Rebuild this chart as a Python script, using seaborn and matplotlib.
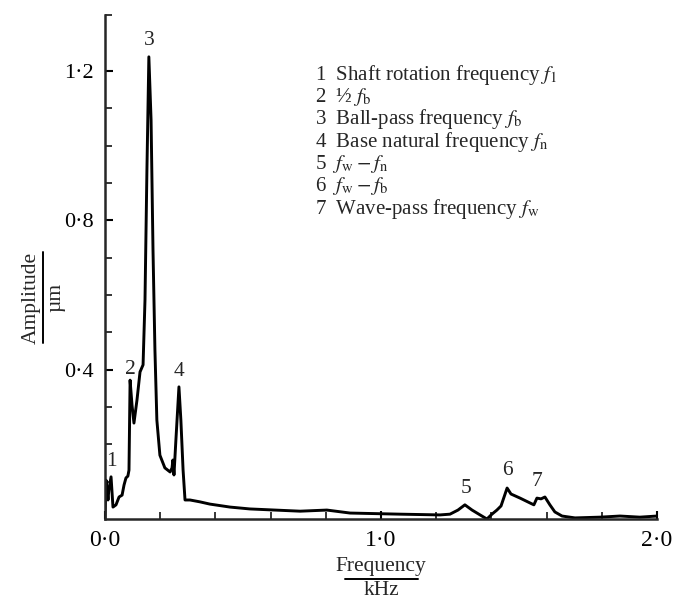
import matplotlib
matplotlib.use("Agg")
import matplotlib.pyplot as plt
from matplotlib.ticker import FixedLocator
import seaborn as sns
import pandas as pd

# Vibration spectrum of a rolling-bearing test rig (frequency in kHz, amplitude in µm)
freq_khz = [0.000, 0.004, 0.011, 0.014, 0.022, 0.029, 0.040, 0.051, 0.062, 0.069,
            0.076, 0.083, 0.087, 0.091, 0.098, 0.105, 0.116, 0.127, 0.138, 0.145,
            0.152, 0.159, 0.167, 0.174, 0.181, 0.188, 0.199, 0.217, 0.236, 0.243,
            0.246, 0.250, 0.257, 0.268, 0.275, 0.283, 0.290, 0.308, 0.344, 0.380,
            0.453, 0.525, 0.707, 0.804, 0.888, 1.069, 1.214, 1.250, 1.279, 1.304,
            1.330, 1.359, 1.384, 1.402, 1.420, 1.435, 1.446, 1.457, 1.471, 1.504,
            1.540, 1.554, 1.565, 1.580, 1.594, 1.612, 1.630, 1.656, 1.703, 1.793,
            1.866, 1.938, 2.000]
amplitude_um = [0.000, 0.104, 0.051, 0.078, 0.113, 0.032, 0.038, 0.059, 0.064, 0.091,
                0.110, 0.115, 0.131, 0.372, 0.305, 0.257, 0.319, 0.394, 0.413, 0.587,
                0.935, 1.238, 1.069, 0.721, 0.453, 0.265, 0.171, 0.137, 0.126, 0.137,
                0.158, 0.118, 0.212, 0.354, 0.265, 0.131, 0.051, 0.051, 0.046, 0.040,
                0.032, 0.027, 0.021, 0.024, 0.016, 0.013, 0.011, 0.013, 0.024, 0.038,
                0.024, 0.011, 0.000, 0.013, 0.024, 0.035, 0.059, 0.083, 0.067, 0.056,
                0.043, 0.038, 0.056, 0.054, 0.059, 0.038, 0.019, 0.008, 0.003, 0.005,
                0.008, 0.005, 0.008]

# Numbered peaks and their key entries
peak_ids = ["1", "2", "3", "4", "5", "6", "7"]
peak_freq = [0.022, 0.091, 0.159, 0.268, 1.308, 1.460, 1.565]
peak_label_amp = [0.153, 0.400, 1.283, 0.396, 0.083, 0.129, 0.100]
key_entries = [
    r"1  Shaft rotation frequency $f_1$",
    r"2  ½ $f_{\mathrm{b}}$",
    r"3  Ball-pass frequency $f_{\mathrm{b}}$",
    r"4  Base natural frequency $f_{\mathrm{n}}$",
    r"5  $f_{\mathrm{w}} - f_{\mathrm{n}}$",
    r"6  $f_{\mathrm{w}} - f_{\mathrm{b}}$",
    r"7  Wave-pass frequency $f_{\mathrm{w}}$",
]

x_major = [0.0, 1.0, 2.0]
x_major_labels = ["0·0", "1·0", "2·0"]
y_major = [0.4, 0.8, 1.2]
y_major_labels = ["0·4", "0·8", "1·2"]

sns.set_style("ticks")
plt.rcParams["font.family"] = ["Liberation Serif", "DejaVu Serif"]
plt.rcParams["mathtext.fontset"] = "stix"

fig = plt.figure(figsize=(6.87, 6.01), dpi=100)
ax = fig.add_axes([0.1528, 0.1364, 0.8035, 0.8386])

df = pd.DataFrame({"freq": freq_khz, "amp": amplitude_um})
sns.lineplot(data=df, x="freq", y="amp", color="black", linewidth=2.1,
             sort=False, estimator=None, ax=ax)

ax.set_xlim(0, 2.0)
ax.set_ylim(0, 1.35)
sns.despine(ax=ax)
for s in ("left", "bottom"):
    ax.spines[s].set_linewidth(1.8)

ax.set_xticks(x_major)
ax.set_xticklabels(x_major_labels, fontsize=17)
ax.xaxis.set_minor_locator(FixedLocator([0.2, 0.4, 0.6, 0.8, 1.2, 1.4, 1.6, 1.8]))
ax.set_yticks(y_major)
ax.set_yticklabels(y_major_labels, fontsize=16)
ax.yaxis.set_minor_locator(FixedLocator([0.1, 0.2, 0.3, 0.5, 0.6, 0.7,
                                         0.9, 1.0, 1.1, 1.35]))
ax.tick_params(axis="both", which="major", direction="in", length=6, width=1.5,
               pad=8, colors="black")
ax.tick_params(axis="both", which="minor", direction="in", length=5, width=1.3)
ax.set_xlabel("")
ax.set_ylabel("")

# Peak numbers
for pid, px, py in zip(peak_ids, peak_freq, peak_label_amp):
    ax.text(px, py, pid, ha="center", va="center", fontsize=15.5)

# Key to the peaks
for i, entry in enumerate(key_entries):
    ax.text(0.76, 1.19 - i * 0.0598, entry, ha="left", va="center", fontsize=15)

# Axis titles written as quantity / unit
fig.text(0.5546, 0.058, "Frequency", ha="center", va="center", fontsize=15.5)
fig.add_artist(plt.Line2D([0.502, 0.608], [0.037, 0.037], color="black", linewidth=1.4))
fig.text(0.5546, 0.018, "kHz", ha="center", va="center", fontsize=15.5)

fig.text(0.045, 0.505, "Amplitude", rotation=90, ha="center", va="center", fontsize=15.5)
fig.add_artist(plt.Line2D([0.0625, 0.0625], [0.43, 0.58], color="black", linewidth=1.4))
fig.text(0.082, 0.505, "µm", rotation=90, ha="center", va="center", fontsize=15.5)

fig.savefig("out.png", dpi=100)
